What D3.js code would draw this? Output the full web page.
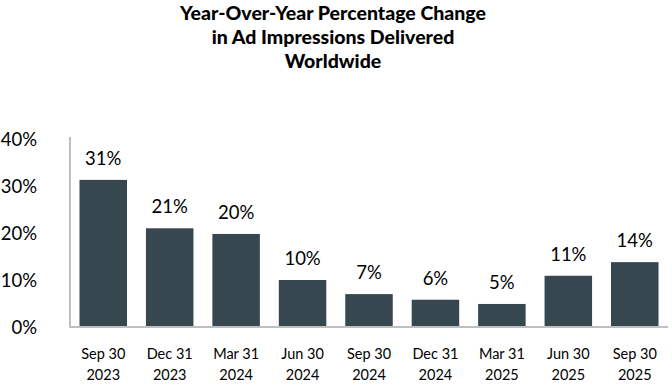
<!DOCTYPE html>
<html><head><meta charset="utf-8">
<script src="https://cdn.jsdelivr.net/npm/d3@7"></script>
<style>
html,body{margin:0;padding:0;background:#fff;}
text{font-family:Lato,"Open Sans",sans-serif;fill:#000;}
</style></head>
<body>
<svg id="chart" width="672" height="384"></svg>
<script>
const titleLines = ["Year-Over-Year Percentage Change", "in Ad Impressions Delivered", "Worldwide"];
const categories = [["Sep 30","2023"],["Dec 31","2023"],["Mar 31","2024"],["Jun 30","2024"],["Sep 30","2024"],["Dec 31","2024"],["Mar 31","2025"],["Jun 30","2025"],["Sep 30","2025"]];
const values = [31.3, 21.0, 19.8, 10.0, 7.0, 5.8, 4.9, 10.9, 13.8];
const yTicks = [0, 10, 20, 30, 40];

const svg = d3.select("#chart");
const keys = categories.map(c => c.join(" "));
const x = d3.scaleBand().domain(keys).range([70, 668]).paddingInner(0.285).paddingOuter(0.143);
const y = d3.scaleLinear().domain([0, 40]).range([327, 139]);

// title
svg.append("text").attr("x", 333).attr("text-anchor", "middle")
  .style("font-weight", "900").style("font-size", "19.5px")
  .selectAll("tspan").data(titleLines).join("tspan")
  .attr("x", 333).attr("y", (d, i) => 20 + i * 24).text(d => d);

// bars
svg.append("g").selectAll("rect").data(values).join("rect")
  .attr("x", (d, i) => x(keys[i])).attr("width", x.bandwidth())
  .attr("y", d => y(d)).attr("height", d => y(0) - y(d))
  .attr("fill", "#37474f");

// value labels
const fmt = d3.format(".0f");
svg.append("g").selectAll("text").data(values).join("text")
  .attr("x", (d, i) => x(keys[i]) + x.bandwidth() / 2)
  .attr("y", d => y(d) - 15)
  .attr("text-anchor", "middle").style("font-size", "18.5px")
  .text(d => fmt(d) + "%");

// y axis
const yAxis = d3.axisLeft(y).tickValues(yTicks).tickFormat(d => d + "%").tickSize(0).tickPadding(0);
const gy = svg.append("g").attr("transform", "translate(37,0)").call(yAxis);
gy.select(".domain").remove();
gy.selectAll("text").style("font-size", "18.5px").attr("dy", "0.35em").attr("fill", "#000");

// axis lines
svg.append("line").attr("x1", 70).attr("x2", 70).attr("y1", 137).attr("y2", y(0))
  .attr("stroke", "#bfbfbf").attr("stroke-width", 2);
svg.append("line").attr("x1", 69).attr("x2", 668).attr("y1", y(0)).attr("y2", y(0))
  .attr("stroke", "#bfbfbf").attr("stroke-width", 2);

// x axis labels
const xAxis = d3.axisBottom(x).tickSize(0).tickFormat(() => "");
const gx = svg.append("g").attr("transform", `translate(0,${y(0)})`).call(xAxis);
gx.select(".domain").remove();
gx.selectAll(".tick").each(function(d, i) {
  const t = d3.select(this).append("text").attr("text-anchor", "middle").style("font-size", "14.5px").attr("fill", "#000");
  categories[i].forEach((line, j) => {
    t.append("tspan").attr("x", 0).attr("y", 32 + j * 21).text(line);
  });
});
</script>
</body></html>
